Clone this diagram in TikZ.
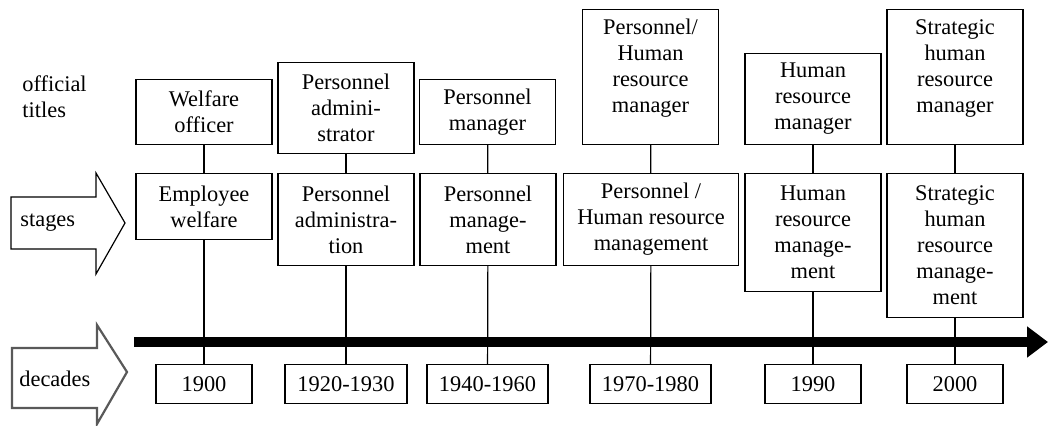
\documentclass[tikz,border=0pt]{standalone}
\usepackage{fontspec}
\setmainfont{Liberation Serif}
\usetikzlibrary{arrows.meta}
\tikzstyle{timeline} = [line width=5pt, -{Triangle[length=10.5pt,width=15pt]}]
\tikzstyle{bigarrow} = [draw=black, line width=0.6pt, fill=white, line join=miter]
\tikzstyle{conn} = [line width=0.6pt]

\begin{document}
\begin{tikzpicture}[
            x=0.5pt, y=-0.5pt,
            every node/.style={font=\fontsize{11.2}{13}\selectfont, align=center},
            box/.style={rectangle, draw=black, line width=0.6pt, inner sep=2pt},
            titlebox/.style={box, minimum width=68pt, anchor=south},
            stagebox/.style={box, minimum width=68pt, anchor=north},
            yearbox/.style={box, minimum width=48pt, minimum height=19.5pt, anchor=north},
            sidetext/.style={anchor=west, inner sep=0pt, align=left}
        ]
            \useasboundingbox (0,0) rectangle (1048,426);

            % Side arrows
            \draw [bigarrow] (11,197) -- (96,197) -- (96,173) -- (125,223) -- (96,274) -- (96,249) -- (11,249) -- cycle;
            \draw [bigarrow, draw=black!65, line width=1.1pt] (12,348) -- (97,348) -- (97,325) -- (127,372) -- (97,424) -- (97,408) -- (12,408) -- cycle;
            \node (official) [sidetext] at (22,97) {official\\titles};
            \node (stages) [sidetext] at (20,223) {stages};
            \node (decades) [sidetext] at (19,379) {decades};

            % Titles
            \node (t1) [titlebox, minimum height=32.5pt] at (204,145) {Welfare\\officer};
            \node (t2) [titlebox, minimum height=45.5pt] at (346,154) {Personnel\\admini-\\strator};
            \node (t3) [titlebox, minimum height=32.5pt] at (487.5,145) {Personnel\\manager};
            \node (t4) [titlebox, minimum height=67.5pt, text depth=11pt] at (650.5,145) {Personnel/\\Human\\resource\\manager};
            \node (t5) [titlebox, minimum height=45.5pt] at (813,145) {Human\\resource\\manager};
            \node (t6) [titlebox, minimum height=67.5pt, text depth=11pt] at (955,145) {Strategic\\human\\resource\\manager};

            % Stages
            \node (s1) [stagebox, minimum height=33pt] at (204,173) {Employee\\welfare};
            \node (s2) [stagebox, minimum height=46pt] at (346,173) {Personnel\\administra-\\tion};
            \node (s3) [stagebox, minimum height=46pt] at (488,173) {Personnel\\manage-\\ment};
            \node (s4) [stagebox, minimum width=87.5pt, minimum height=46pt] at (651,173) {Personnel /\\Human resource\\management};
            \node (s5) [stagebox, minimum height=59pt] at (813,173) {Human\\resource\\manage-\\ment};
            \node (s6) [stagebox, minimum height=72pt] at (955,173) {Strategic\\human\\resource\\manage-\\ment};

            % Decades
            \node (d1) [yearbox] at (204,364) {1900};
            \node (d2) [yearbox, minimum width=61pt] at (346,364) {1920-1930};
            \node (d3) [yearbox, minimum width=60.5pt] at (487.5,364) {1940-1960};
            \node (d4) [yearbox, minimum width=60.5pt] at (650.5,364) {1970-1980};
            \node (d5) [yearbox] at (813,364) {1990};
            \node (d6) [yearbox] at (955,364) {2000};

            % Lines
            \draw [conn] (t1) -- (s1);
            \draw [conn] (t2) -- (s2);
            \draw [conn] (t3) -- (s3);
            \draw [conn] (t4) -- (s4);
            \draw [conn] (t5) -- (s5);
            \draw [conn] (t6) -- (s6);
            \draw [conn] (s1) -- (d1);
            \draw [conn] (s2) -- (d2);
            \draw [conn] (s3) -- (d3);
            \draw [conn] (s4) -- (d4);
            \draw [conn] (s5) -- (d5);
            \draw [conn] (s6) -- (d6);

            % Timeline
            \coordinate (tstart) at (134,342);
            \coordinate (tend) at (1048,342);
            \draw [timeline] (tstart) -- (tend);
        \end{tikzpicture}
\end{document}
